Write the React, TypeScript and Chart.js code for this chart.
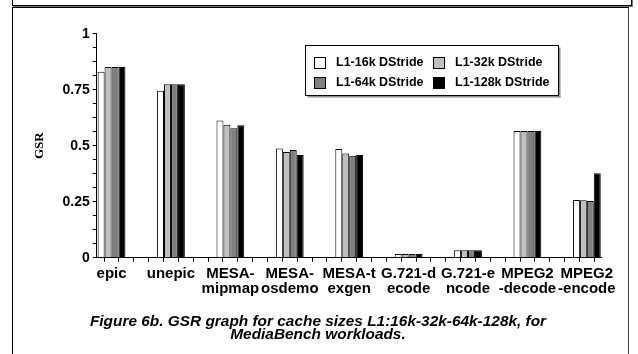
import React, { useEffect, useRef } from 'react';
import { Chart, registerables } from 'chart.js';
Chart.register(...registerables);

const categories: (string | string[])[] = [
  'epic',
  'unepic',
  ['MESA-', 'mipmap'],
  ['MESA-', 'osdemo'],
  ['MESA-t', 'exgen'],
  ['G.721-d', 'ecode'],
  ['G.721-e', 'ncode'],
  ['MPEG2', '-decode'],
  ['MPEG2', '-encode'],
];
const seriesNames = ['L1-16k DStride', 'L1-32k DStride', 'L1-64k DStride', 'L1-128k DStride'];
const seriesColors = ['#ffffff', '#c0c0c0', '#808080', '#000000'];
const l1_16k = [0.83, 0.745, 0.613, 0.487, 0.485, 0.016, 0.033, 0.566, 0.258];
const l1_32k = [0.851, 0.774, 0.594, 0.472, 0.465, 0.016, 0.033, 0.566, 0.257];
const l1_64k = [0.851, 0.774, 0.578, 0.481, 0.455, 0.016, 0.033, 0.566, 0.253];
const l1_128k = [0.851, 0.774, 0.591, 0.458, 0.458, 0.016, 0.033, 0.566, 0.377];
const yLabelValues = [0, 0.25, 0.5, 0.75, 1];
const yTitle = 'GSR';
const captionLines = [
  'Figure 6b. GSR graph for cache sizes L1:16k-32k-64k-128k, for',
  'MediaBench workloads.',
];

const SANS = '"Liberation Sans", Arial, sans-serif';

const legendPlugin = {
  id: 'boxLegend',
  afterDraw(chart: any) {
    const ctx = chart.ctx;
    const bx = 305.5, by = 45.5, bw = 253, bh = 50;
    ctx.save();
    ctx.fillStyle = '#909090';
    ctx.fillRect(bx + 2, by + bh, bw, 2);
    ctx.fillRect(bx + bw, by + 2, 2, bh);
    ctx.fillStyle = '#ffffff';
    ctx.fillRect(bx, by, bw, bh);
    ctx.strokeStyle = '#000';
    ctx.lineWidth = 1;
    ctx.strokeRect(bx, by, bw, bh);
    ctx.font = `bold 12.5px ${SANS}`;
    ctx.textBaseline = 'middle';
    ctx.textAlign = 'left';
    chart.data.datasets.forEach((ds: any, i: number) => {
      const col = i % 2;
      const row = Math.floor(i / 2);
      const sx = col === 0 ? 314 : 433;
      const cy = row === 0 ? 63 : 83;
      ctx.fillStyle = ds.backgroundColor;
      ctx.fillRect(sx + 0.5, cy - 5.5, 11, 11);
      ctx.strokeStyle = '#000';
      ctx.strokeRect(sx + 0.5, cy - 5.5, 11, 11);
      ctx.fillStyle = '#000';
      ctx.fillText(ds.label, sx + 22, cy);
    });
    ctx.restore();
  },
};

const captionPlugin = {
  id: 'caption',
  afterDraw(chart: any) {
    const ctx = chart.ctx;
    ctx.save();
    ctx.font = `italic bold 14px ${SANS}`;
    ctx.fillStyle = '#000';
    ctx.textAlign = 'center';
    ctx.textBaseline = 'middle';
    captionLines.forEach((line, i) => {
      ctx.save();
      ctx.translate(318, 322 + i * 13);
      ctx.scale(1.1, 1);
      ctx.fillText(line, 0, 0);
      ctx.restore();
    });
    ctx.restore();
  },
};

export default function App() {
  const ref = useRef<HTMLCanvasElement | null>(null);
  useEffect(() => {
    if (!ref.current) return;
    const series = [l1_16k, l1_32k, l1_64k, l1_128k];
    const chart = new Chart(ref.current, {
      type: 'bar',
      data: {
        datasets: series.map((vals, i) => ({
          label: seriesNames[i],
          data: vals.map((v, j) => ({ x: j, y: v })),
          backgroundColor: seriesColors[i],
          borderColor: '#000',
          borderWidth: 1,
          categoryPercentage: 1.87,
          barPercentage: 1,
        })),
      },
      options: {
        responsive: false,
        animation: false,
        layout: { padding: { left: 0, top: 33.7, right: 36.3, bottom: 38.6 } },
        plugins: { legend: { display: false }, tooltip: { enabled: false }, title: { display: false } },
        scales: {
          x: {
            type: 'linear',
            min: -0.25,
            max: 8.25,
            offset: false,
            afterFit(scale: any) {
              scale.height = 57.7;
            },
            grid: { display: true, drawOnChartArea: false, drawTicks: true, tickLength: 4, color: '#000', tickColor: '#000' },
            border: { display: true, color: '#000', width: 1 },
            ticks: {
              stepSize: 0.25,
              autoSkip: false,
              maxRotation: 0,
              minRotation: 0,
              padding: 5,
              color: '#000',
              font: { family: SANS, size: 15, weight: 'bold', lineHeight: 1 },
              callback(value: any) {
                const v = Number(value);
                if (Math.abs(v - Math.round(v)) < 1e-9 && v >= 0 && v < categories.length) {
                  return categories[Math.round(v)] as any;
                }
                return '';
              },
            },
          },
          y: {
            type: 'linear',
            min: 0,
            max: 1,
            afterFit(scale: any) {
              scale.width = 96.7;
            },
            grid: { display: true, drawOnChartArea: false, drawTicks: true, tickLength: 4, color: '#000', tickColor: '#000' },
            border: { display: true, color: '#000', width: 1 },
            title: {
              display: true,
              text: yTitle,
              color: '#000',
              font: { family: '"Liberation Serif", "Times New Roman", serif', size: 13, weight: 'bold' },
              padding: { top: 32, bottom: 0 },
            },
            ticks: {
              stepSize: 0.0625,
              autoSkip: false,
              padding: 3,
              color: '#000',
              font: { family: SANS, size: 14, weight: 'bold' },
              callback(value: any) {
                const v = Number(value);
                const hit = yLabelValues.find((t) => Math.abs(t - v) < 1e-9);
                return hit === undefined ? '' : String(hit);
              },
            },
          },
        },
      },
      plugins: [legendPlugin, captionPlugin],
    } as any);
    return () => chart.destroy();
  }, []);

  return (
    <div style={{ position: 'fixed', left: 0, top: 0, width: 638, height: 354, background: '#fff', overflow: 'hidden' }}>
      <div style={{ position: 'absolute', left: 12, top: -10, width: 618, height: 14, border: '1px solid #000', boxShadow: '1px 1px 0 #777' }} />
      <div style={{ position: 'absolute', left: 12, top: 7, width: 615, height: 360, borderLeft: '1px solid #000', borderTop: '1px solid #000', borderRight: '1px solid #444' }} />
      <canvas ref={ref} width={638} height={354} style={{ position: 'absolute', left: 0, top: 0, width: 638, height: 354 }} />
    </div>
  );
}
